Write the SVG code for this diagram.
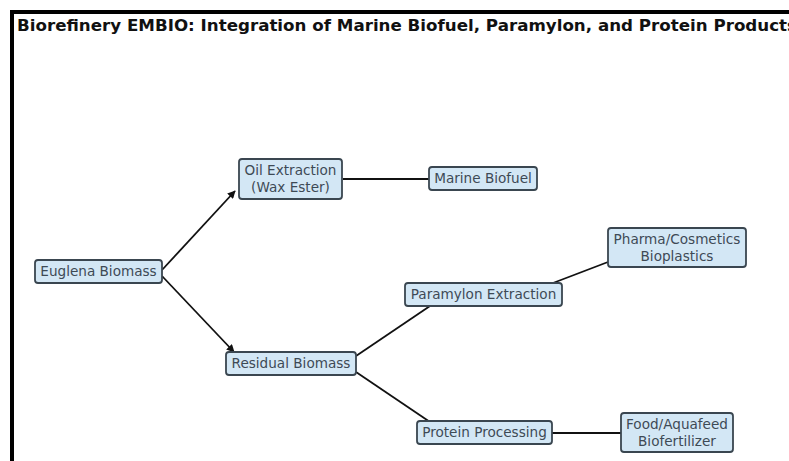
<svg xmlns="http://www.w3.org/2000/svg" width="789" height="461" viewBox="0 0 789 461">
<defs>
<style>
.node rect{fill:#d3e7f5;stroke:#3a4650;stroke-width:1.8}
.node text{font-family:"DejaVu Sans",sans-serif;font-size:13.6px;fill:#3e4a55;text-anchor:middle}
.edge{stroke:#111;stroke-width:1.8;fill:none}
.title{font-family:"DejaVu Sans",sans-serif;font-weight:bold;font-size:15px;fill:#111}
</style>
<marker id="arr" viewBox="0 0 10 10" refX="9" refY="5" markerWidth="8" markerHeight="8" orient="auto" markerUnits="userSpaceOnUse">
<path d="M0,0 L10,5 L0,10 z" fill="#111"/>
</marker>
</defs>
<rect x="0" y="0" width="789" height="461" fill="#fff"/>
<path d="M12,461 V12 H789" stroke="#000" stroke-width="4" fill="none"/>
<text class="title" x="17" y="31" textLength="780" lengthAdjust="spacingAndGlyphs">Biorefinery EMBIO: Integration of Marine Biofuel, Paramylon, and Protein Products</text>
<g id="connectors">
<line class="edge" x1="162" y1="270" x2="235" y2="191" marker-end="url(#arr)"/>
<line class="edge" x1="162" y1="276" x2="234" y2="352" marker-end="url(#arr)"/>
<line class="edge" x1="343" y1="179" x2="429" y2="179" stroke-width="2.4"/>
<line class="edge" x1="356" y1="356" x2="430" y2="306"/>
<line class="edge" x1="553" y1="283" x2="608" y2="262"/>
<line class="edge" x1="356" y1="372" x2="430" y2="422"/>
<line class="edge" x1="552" y1="433" x2="621" y2="433"/>
</g>
<g id="euglena" class="node"><rect x="35" y="260" width="127" height="23" rx="3"/><text x="98.5" y="276">Euglena Biomass</text></g>
<g id="oil" class="node"><rect x="239" y="159" width="103" height="40" rx="3"/><text x="290.5" y="175">Oil Extraction</text><text x="290.5" y="192">(Wax Ester)</text></g>
<g id="marine" class="node"><rect x="429" y="167" width="108" height="23" rx="3"/><text x="483" y="183">Marine Biofuel</text></g>
<g id="residual" class="node"><rect x="226" y="352" width="130" height="23" rx="3"/><text x="291" y="368">Residual Biomass</text></g>
<g id="paramylon" class="node"><rect x="405" y="283" width="157" height="23" rx="3"/><text x="483.5" y="299">Paramylon Extraction</text></g>
<g id="pharma" class="node"><rect x="608" y="228" width="138" height="39" rx="3"/><text x="677" y="244">Pharma/Cosmetics</text><text x="677" y="261">Bioplastics</text></g>
<g id="protein" class="node"><rect x="417" y="421" width="135" height="23" rx="3"/><text x="484.5" y="437">Protein Processing</text></g>
<g id="food" class="node"><rect x="621" y="413" width="112" height="39" rx="3"/><text x="677" y="429">Food/Aquafeed</text><text x="677" y="446">Biofertilizer</text></g>
</svg>
